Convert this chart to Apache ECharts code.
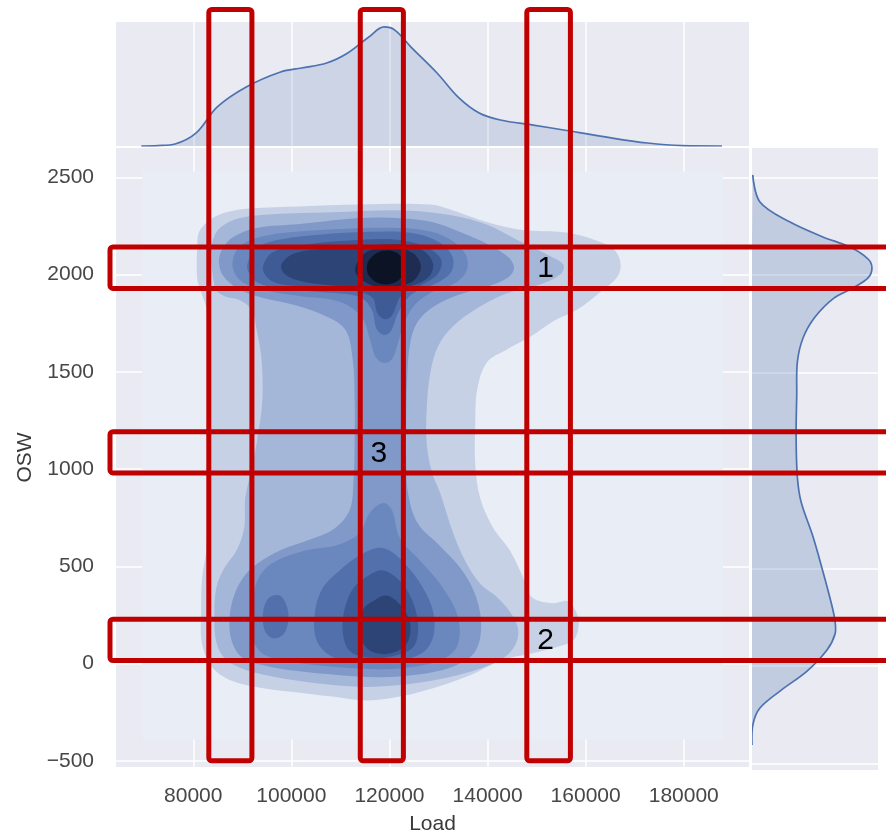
<!DOCTYPE html>
<html><head><meta charset="utf-8">
<script src="https://cdn.jsdelivr.net/npm/echarts@6/dist/echarts.min.js"></script>
<style>html,body{margin:0;padding:0;background:#fff}#c{width:886px;height:840px}</style>
</head><body><div id="c"></div>
<script>
// ---------- data ----------
const loadTicks = [80000, 100000, 120000, 140000, 160000, 180000];
const oswTicks = [-500, 0, 500, 1000, 1500, 2000, 2500];

// marginal KDE of Load (top)
const loadGrid = [69400, 72800, 76300, 80600, 84900, 90800, 97800, 102100, 107200, 111500, 115800, 118900, 121100, 124400, 129700, 134000, 138300, 142600, 149300, 155500, 164000, 172600, 179600, 187800];
const loadDensity = [0, 0.003, 0.016, 0.105, 0.315, 0.476, 0.597, 0.629, 0.669, 0.750, 0.879, 0.960, 0.935, 0.798, 0.589, 0.395, 0.266, 0.210, 0.169, 0.129, 0.073, 0.024, 0.003, 0];

// marginal KDE of OSW (right)
const oswGrid = [-404, -297, -215, -128, -26, 82, 164, 230, 333, 502, 670, 839, 967, 1177, 1387, 1556, 1679, 1786, 1883, 1935, 1986, 2037, 2083, 2144, 2196, 2272, 2375, 2513];
const oswDensity = [0, 0.008, 0.063, 0.222, 0.437, 0.595, 0.659, 0.659, 0.625, 0.555, 0.480, 0.390, 0.360, 0.350, 0.355, 0.360, 0.405, 0.500, 0.650, 0.802, 0.921, 0.952, 0.921, 0.778, 0.563, 0.302, 0.063, 0.006];

// joint KDE filled contour levels (Load, OSW)
const level0 = [[[69600, -390], [188000, -390], [188000, 2530], [69600, 2530]]];
const level1 = [[
  [80800,2140],[81200,2220],[83300,2280],[86700,2320],[91500,2340],[101700,2350],[113900,2360],[128300,2360],[133000,2330],[139900,2270],[146700,2230],[156300,2215],[161600,2180],[165700,2130],[167100,2060],[166500,1990],[163000,1910],[158300,1820],[153400,1760],[148700,1680],[143600,1610],[139900,1550],[137900,1410],[137500,1240],[137500,1020],[138500,850],[141100,700],[144600,580],[147300,440],[149100,340],[153400,310],[156300,320],[158300,250],[158500,180],[157500,120],[154800,90],[148700,50],[143200,20],[136400,-60],[129700,-120],[122100,-170],[115400,-190],[108400,-170],[101700,-150],[94900,-130],[88000,-90],[83900,-20],[81800,100],[81600,270],[81800,440],[82700,590],[83100,850],[83100,1110],[83100,1360],[82900,1620],[82700,1820],[81600,1910],[80800,1980]
]];
const level2 = [[
  [83700,2120],[84300,2200],[85900,2250],[89400,2290],[96200,2310],[108400,2320],[122100,2330],[131300,2310],[139500,2260],[146700,2170],[152400,2100],[155500,2050],[154800,2000],[150800,1950],[143600,1900],[137500,1820],[132800,1730],[129900,1630],[128300,1490],[127600,1310],[127600,1130],[128700,980],[130300,880],[133000,670],[135400,530],[138500,410],[142000,340],[145000,250],[146300,160],[145000,70],[141600,5],[135400,-50],[128300,-90],[122100,-110],[115400,-120],[108400,-110],[101700,-90],[94900,-60],[89400,-20],[86300,30],[84700,110],[84300,240],[84700,390],[86300,490],[88800,580],[90400,700],[90600,850],[91900,1000],[93100,1160],[94100,1360],[93900,1570],[92900,1720],[91900,1820],[89400,1870],[86300,1890],[84500,1930]
]];
const level3 = [[
  [85300,2090],[86500,2155],[88600,2200],[92900,2240],[101700,2260],[113300,2290],[122100,2290],[128700,2270],[134800,2215],[140500,2150],[144200,2090],[145400,2035],[144200,1985],[140100,1940],[134000,1895],[129300,1840],[125800,1760],[124200,1645],[123600,1465],[123400,1260],[123400,1055],[123800,875],[125800,720],[130300,605],[134800,480],[137700,340],[138700,185],[137300,55],[133000,-15],[126200,-55],[118000,-70],[109900,-60],[101700,-40],[94500,-10],[90000,30],[87800,120],[87400,235],[88400,355],[90400,450],[93100,515],[98000,585],[104100,640],[108800,695],[111900,790],[112700,950],[112900,1155],[112900,1360],[112500,1565],[110900,1720],[105800,1800],[99600,1850],[93500,1885],[89400,1925],[86700,1975],[85500,2025]
]];
const level4 = [
  [[88000,2060],[89000,2130],[91900,2180],[98600,2215],[109900,2235],[122100,2240],[128700,2220],[133000,2170],[135600,2100],[135800,2025],[133600,1960],[128700,1910],[125000,1840],[122900,1745],[121700,1645],[120500,1565],[118900,1545],[117200,1575],[116000,1670],[114400,1780],[109900,1860],[101700,1890],[94500,1920],[90400,1955],[88600,2000]],
  [[118700,825],[120500,790],[122100,645],[126200,530],[130900,390],[134000,235],[133800,90],[130300,15],[122100,-25],[113900,-25],[105800,-10],[98600,15],[93900,55],[91900,150],[92100,295],[93100,430],[96000,515],[102700,580],[109400,610],[113900,670],[116000,775]]
];
const level5 = [
  [[91000,2050],[92700,2130],[96600,2175],[105800,2205],[116000,2220],[124200,2215],[129900,2170],[132800,2095],[132600,2015],[129500,1955],[124600,1900],[121900,1810],[120300,1710],[118900,1690],[117400,1720],[116400,1820],[113900,1885],[105800,1910],[97600,1930],[93100,1960],[91500,2005]],
  [[117600,595],[120100,580],[123100,515],[126200,415],[128700,285],[129100,160],[127200,65],[122100,15],[115000,5],[108800,30],[105400,105],[104700,235],[106200,380],[109900,480],[113900,555]],
  [[95500,340],[97600,350],[99000,300],[99400,225],[98400,150],[96200,130],[94500,175],[94300,275]]
];
const level6 = [
  [[94300,2050],[96200,2115],[101700,2150],[111900,2175],[121100,2180],[127200,2145],[130500,2080],[129900,2005],[126400,1945],[122500,1895],[120500,1790],[119100,1770],[117600,1800],[116400,1885],[110900,1925],[101700,1940],[96600,1960],[94500,2005]],
  [[115600,450],[118400,480],[121500,440],[124200,350],[125800,210],[125000,90],[121100,40],[116000,30],[111900,65],[110500,160],[110900,285],[112700,390]]
];
const level7 = [
  [[98000,2055],[100700,2110],[107800,2135],[116000,2150],[122500,2155],[126800,2125],[128900,2055],[127900,1985],[124200,1940],[120100,1920],[113900,1935],[105800,1950],[100700,1975],[98400,2010]],
  [[116600,320],[119300,350],[122100,305],[124200,210],[123600,105],[120700,55],[117000,55],[114600,105],[113900,210],[114800,285]]
];
const level8 = [[[113300,2055],[115600,2120],[120500,2140],[124800,2110],[126400,2045],[125200,1975],[122100,1940],[118000,1935],[114800,1965],[113100,2010]]];
const level9 = [[[116000,2080],[118200,2120],[121300,2115],[122900,2065],[122700,1995],[120700,1955],[117800,1955],[115800,1995],[115400,2040]]];

// annotation bands (Load ranges, OSW ranges) and their numbered intersections
const loadBands = [[83170, 91960], [114050, 122840], [148000, 156890]];
const oswBands = [[1929, 2142], [980, 1192], [15, 228]];
const bandLabels = [['1', 2, 0], ['2', 2, 2], ['3', 1, 1]];

// ---------- styling ----------
const levelColors = ['#e9edf5', '#c6d1e6', '#a5b7d8', '#8199c8', '#6a87be', '#5170ac', '#3f5b96', '#2d4576', '#1d2c50', '#0b1324'];
const FONT = "'Liberation Sans', Arial, sans-serif";
const levels = [level0, level1, level2, level3, level4, level5, level6, level7, level8, level9];
const contourItems = [];
levels.forEach((lv, i) => lv.forEach((poly, j) => contourItems.push([i, j])));

const chart = echarts.init(document.getElementById('c'), null, {renderer: 'canvas'});
const gridBase = {show: true, backgroundColor: '#eaeaf2', borderWidth: 0};
const tickLbl = {color: '#474747', fontSize: 21, fontFamily: FONT};
const white = {show: true, lineStyle: {color: '#ffffff', width: 1.5}};

const option = {
  animation: false,
  backgroundColor: '#ffffff',
  grid: [
    Object.assign({left: 116, top: 148, width: 633, height: 622}, gridBase),
    Object.assign({left: 116, top: 22, width: 633, height: 124}, gridBase),
    Object.assign({left: 752, top: 148, width: 126, height: 622}, gridBase)
  ],
  xAxis: [
    {gridIndex: 0, type: 'value', min: 64250, max: 193300,
     axisLine: {show: false}, axisTick: {show: false, customValues: loadTicks},
     axisLabel: Object.assign({customValues: loadTicks, margin: 19, formatter: v => String(v)}, tickLbl),
     splitLine: white,
     name: 'Load', nameLocation: 'middle', nameGap: 47,
     nameTextStyle: {color: '#3a3a3a', fontSize: 21, fontFamily: FONT}},
    {gridIndex: 1, type: 'value', min: 64250, max: 193300,
     axisLine: {show: false}, axisTick: {show: false, customValues: loadTicks},
     axisLabel: {show: false, customValues: loadTicks}, splitLine: white},
    {gridIndex: 2, type: 'value', min: 0, max: 1, show: false, splitLine: {show: false}}
  ],
  yAxis: [
    {gridIndex: 0, type: 'value', min: -532, max: 2651,
     axisLine: {show: false}, axisTick: {show: false, customValues: oswTicks},
     axisLabel: Object.assign({customValues: oswTicks, margin: 22, formatter: v => String(v).replace('-', '\u2212')}, tickLbl),
     splitLine: white,
     name: 'OSW', nameLocation: 'middle', nameGap: 80, nameRotate: 90,
     nameTextStyle: {color: '#3a3a3a', fontSize: 21, fontFamily: FONT}},
    {gridIndex: 1, type: 'value', min: 0, max: 1, show: false, splitLine: {show: false}},
    {gridIndex: 2, type: 'value', min: -532, max: 2651,
     axisLine: {show: false}, axisTick: {show: false, customValues: oswTicks},
     axisLabel: {show: false, customValues: oswTicks}, splitLine: white}
  ],
  series: [
    {type: 'custom', xAxisIndex: 0, yAxisIndex: 0, data: contourItems, silent: true, clip: true,
     renderItem: function (params, api) {
       const li = api.value(0), pj = api.value(1);
       const pts = levels[li][pj].map(p => api.coord(p));
       return {type: 'polygon', shape: {points: pts, smooth: li === 0 ? 0 : 0.35},
               style: {fill: levelColors[li], stroke: null}};
     }},
    {type: 'line', xAxisIndex: 1, yAxisIndex: 1, smooth: 0.35, showSymbol: false, silent: true,
     data: loadGrid.map((x, i) => [x, loadDensity[i]]),
     lineStyle: {color: '#4c72b0', width: 1.7},
     areaStyle: {color: 'rgba(76,114,176,0.25)'}},
    {type: 'custom', xAxisIndex: 2, yAxisIndex: 2, data: [[0, 0]], silent: true, clip: true,
     renderItem: function (params, api) {
       const pts = oswGrid.map((o, k) => api.coord([oswDensity[k], o]));
       return {type: 'group', children: [
         {type: 'polygon', shape: {points: pts, smooth: 0.35}, style: {fill: 'rgba(76,114,176,0.25)', stroke: null}},
         {type: 'polyline', shape: {points: pts, smooth: 0.35}, style: {stroke: '#4c72b0', lineWidth: 1.7, fill: null}}
       ]};
     }}
  ]
};
chart.setOption(option);

// ---------- red annotation boxes ----------
const px = v => chart.convertToPixel({xAxisIndex: 0}, v);
const py = v => chart.convertToPixel({yAxisIndex: 0}, v);
const boxStyle = {fill: 'transparent', stroke: '#c00000', lineWidth: 5};
const graphics = [];
const vTop = 9.5, vBot = py(-500);
loadBands.forEach(b => {
  const x0 = px(b[0]), x1 = px(b[1]);
  graphics.push({type: 'rect', z: 100, silent: true, shape: {x: x0, y: vTop, width: x1 - x0, height: vBot - vTop, r: 3}, style: boxStyle});
});
oswBands.forEach(b => {
  const y0 = py(b[1]), y1 = py(b[0]);
  graphics.push({type: 'rect', z: 100, silent: true, shape: {x: 110, y: y0, width: 800, height: y1 - y0, r: 3}, style: boxStyle});
});
bandLabels.forEach(l => {
  const lb = loadBands[l[1]], ob = oswBands[l[2]];
  graphics.push({type: 'text', z: 101, silent: true,
    x: px((lb[0] + lb[1]) / 2) - 3, y: py((ob[0] + ob[1]) / 2) + 1,
    style: {text: l[0], fill: '#000', fontSize: 30, fontFamily: FONT, align: 'center', verticalAlign: 'middle'}});
});
chart.setOption({graphic: graphics});
</script>
</body></html>
